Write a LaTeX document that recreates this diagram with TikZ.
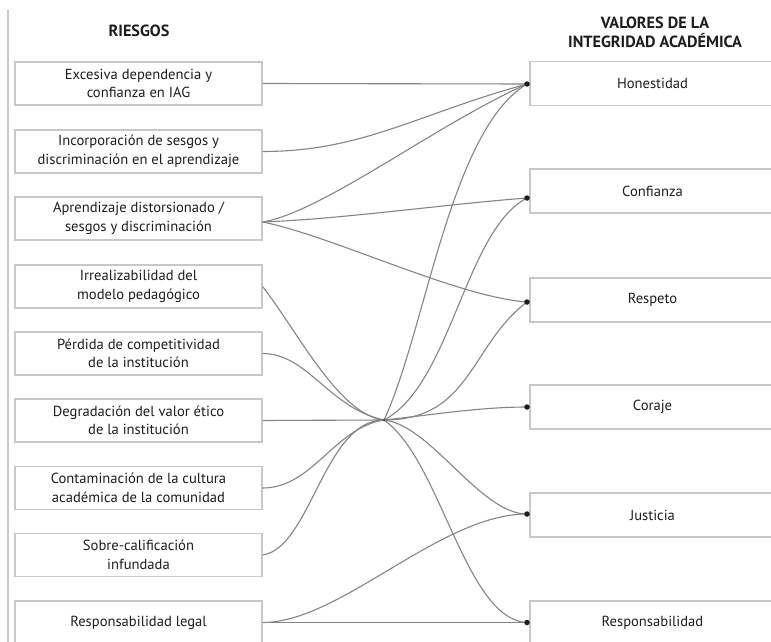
\documentclass[tikz,border=0pt]{standalone}
\usepackage{fontspec}
\setmainfont{PT Sans}
\usetikzlibrary{calc}
\definecolor{linegray}{HTML}{858585}
\definecolor{boxgray}{HTML}{C8C8C8}
\definecolor{txt}{HTML}{1E1E1E}
\begin{document}
\begin{tikzpicture}[x=1pt,y=-1pt,
  riskbox/.style={draw=boxgray, fill=white, line width=1.3pt, minimum width=247pt, minimum height=43pt,
    align=center, inner sep=0pt, text=txt, font=\fontsize{14.6}{18.5}\selectfont},
  valbox/.style={draw=boxgray, fill=white, line width=1.3pt, minimum width=245pt, minimum height=44pt,
    align=center, inner sep=0pt, text=txt, font=\fontsize{14.6}{18.5}\selectfont},
  head/.style={align=center, inner sep=0pt, text=txt, font=\bfseries\fontsize{16.2}{19}\selectfont},
  link/.style={draw=linegray, line width=1.1pt},
  dotc/.style={circle, fill=txt, inner sep=0pt, minimum size=5.5pt},
  hubdot/.style={circle, fill=txt!80, inner sep=0pt, minimum size=3pt}]
\useasboundingbox (0,0) rectangle (771,642);
\fill[white] (0,0) rectangle (771,642);
\draw[boxgray, line width=1.2pt] (8,10) -- (8,642);

\node[head] (hr) at (139,31) {RIESGOS};
\node[head] (hv) at (655,32.5) {VALORES DE LA\\INTEGRIDAD ACADÉMICA};

\node[riskbox] (b1) at (138.5,83.5) {Excesiva dependencia y\\confianza en IAG};
\node[riskbox] (b2) at (138.5,151.5) {Incorporación de sesgos y\\discriminación en el aprendizaje};
\node[riskbox] (b3) at (138.5,218.5) {Aprendizaje distorsionado /\\sesgos y discriminación};
\node[riskbox] (b4) at (138.5,286.5) {Irrealizabilidad del\\modelo pedagógico};
\node[riskbox] (b5) at (138.5,353.5) {Pérdida de competitividad\\de la institución};
\node[riskbox] (b6) at (138.5,420.5) {Degradación del valor ético\\de la institución};
\node[riskbox] (b7) at (138.5,488) {Contaminación de la cultura\\académica de la comunidad};
\node[riskbox] (b8) at (138.5,555) {Sobre-calificación\\infundada};
\node[riskbox] (b9) at (138.5,622.5) {Responsabilidad legal};

\node[valbox] (vH) at (652.5,83.5) {Honestidad};
\node[valbox] (vC) at (652.5,191) {Confianza};
\node[valbox] (vR) at (652.5,300) {Respeto};
\node[valbox] (vCo) at (652.5,407) {Coraje};
\node[valbox] (vJ) at (652.5,515) {Justicia};
\node[valbox] (vRe) at (652.5,623) {Responsabilidad};

\coordinate (hub) at (384,420);
\coordinate (b3o) at ($(b3.east)+(0,3.5)$);
\coordinate (dH) at (527,84);
\coordinate (dC) at (527,198);
\coordinate (dR) at (527,302);
\coordinate (dCo) at (527,407);
\coordinate (dJ) at (527,514);
\coordinate (dRe) at (527,622.5);

\draw[link] (b1.east) -- (dH);
\draw[link] (b2.east) .. controls +(100,0) and +(-110,30) .. (dH);
\draw[link] (b3o) .. controls +(60,-10) and +(-90,40) .. (dH);
\draw[link] (b3o) .. controls +(80,-3) and +(-80,6) .. (dC);
\draw[link] (b3o) .. controls +(70,14) and +(-70,-5) .. (dR);

\draw[link] (b4.east) .. controls +(35,45) and +(-45,-5) .. (hub);
\draw[link] (b5.east) .. controls +(45,0) and +(-55,-12) .. (hub);
\draw[link] (b6.east) -- (hub);
\draw[link] (b7.east) .. controls +(50,0) and +(-50,8) .. (hub);
\draw[link] (b8.east) .. controls +(48,-7) and +(-60,0) .. (hub);

\draw[link] (hub) .. controls +(42,-90) and +(-77,46) .. (dH);
\draw[link] (hub) .. controls +(67,-35) and +(-62,32) .. (dC);
\draw[link] (hub) .. controls +(87,0) and +(-57,43) .. (dR);
\draw[link] (hub) .. controls +(47,-5) and +(-47,0) .. (dCo);
\draw[link] (hub) .. controls +(47,5) and +(-47,0) .. (dJ);
\draw[link] (hub) .. controls +(57,40) and +(-62,-3) .. (dRe);

\draw[link] (b9.east) .. controls +(78,0) and +(-87,0) .. (dJ);
\draw[link] (b9.east) -- (dRe);

\node[hubdot] (nhub) at (hub) {};
\node[dotc] (nH) at (dH) {};
\node[dotc] (nC) at (dC) {};
\node[dotc] (nR) at (dR) {};
\node[dotc] (nCo) at (dCo) {};
\node[dotc] (nJ) at (dJ) {};
\node[dotc] (nRe) at (dRe) {};
\end{tikzpicture}
\end{document}
